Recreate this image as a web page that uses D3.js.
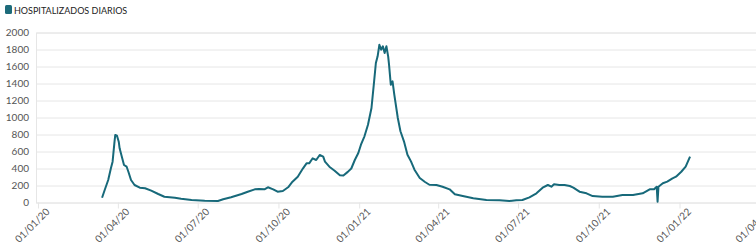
<!DOCTYPE html>
<html>
<head>
<meta charset="utf-8">
<script src="https://cdn.jsdelivr.net/npm/d3@7"></script>
<style>
  body { margin: 0; background: #fff; }
  text { font-family: Lato, "Open Sans", sans-serif; }
</style>
</head>
<body>
<div class="canvas"></div>
<script>
// series (date, hospitalised that day)
const dates = [
  '2020-03-14','2020-03-17','2020-03-21','2020-03-24','2020-03-26','2020-03-28','2020-03-29','2020-03-31',
  '2020-04-02','2020-04-03','2020-04-05','2020-04-08','2020-04-11','2020-04-13','2020-04-16','2020-04-20',
  '2020-04-26','2020-05-02','2020-05-09','2020-05-17','2020-05-24','2020-06-05','2020-06-12','2020-06-24',
  '2020-07-09','2020-07-24','2020-07-30','2020-08-08','2020-08-20','2020-08-27','2020-09-04','2020-09-09',
  '2020-09-15','2020-09-19','2020-09-25','2020-09-30','2020-10-06','2020-10-12','2020-10-17','2020-10-23',
  '2020-10-29','2020-11-02','2020-11-05','2020-11-09','2020-11-13','2020-11-17','2020-11-21','2020-11-23',
  '2020-11-28','2020-12-04','2020-12-10','2020-12-14','2020-12-19','2020-12-23','2020-12-27','2020-12-31',
  '2021-01-03','2021-01-07','2021-01-11','2021-01-15','2021-01-18','2021-01-20','2021-01-22','2021-01-24',
  '2021-01-26','2021-01-28','2021-01-30','2021-02-01','2021-02-03','2021-02-04','2021-02-06','2021-02-08',
  '2021-02-10','2021-02-14','2021-02-17','2021-02-21','2021-02-25','2021-03-01','2021-03-05','2021-03-11',
  '2021-03-17','2021-03-22','2021-03-30','2021-04-06','2021-04-14','2021-04-20','2021-04-29','2021-05-11',
  '2021-05-26','2021-06-10','2021-06-21','2021-06-29','2021-07-06','2021-07-14','2021-07-22','2021-07-29',
  '2021-08-04','2021-08-08','2021-08-11','2021-08-17','2021-08-23','2021-08-29','2021-09-02','2021-09-09',
  '2021-09-17','2021-09-24','2021-10-05','2021-10-17','2021-10-28','2021-11-09','2021-11-20','2021-11-28',
  '2021-12-03','2021-12-06','2021-12-07','2021-12-08','2021-12-13','2021-12-18','2021-12-24','2021-12-28',
  '2022-01-03','2022-01-08','2022-01-13'
];
const values = [
  56, 147, 265, 400, 480, 696, 794, 785,
  715, 637, 559, 441, 421, 362, 265, 206,
  174, 167, 139, 100, 68, 56, 45, 29,
  21, 18, 38, 61, 100, 127, 155, 159,
  155, 179, 155, 127, 135, 179, 245, 304,
  402, 461, 461, 520, 500, 559, 539, 480,
  421, 374, 320, 318, 360, 400, 500, 582,
  680, 779, 915, 1112, 1426, 1641, 1720, 1856,
  1798, 1838, 1759, 1838, 1720, 1621, 1386, 1426,
  1268, 994, 838, 720, 562, 484, 386, 288,
  241, 209, 206, 186, 155, 96, 76, 49,
  29, 26, 18, 26, 29, 61, 108, 174,
  206, 186, 214, 206, 206, 194, 175, 127,
  108, 76, 68, 68, 88, 88, 108, 155,
  155, 186, 10, 186, 226, 245, 284, 304,
  362, 421, 539
];
const yTicks = [0, 200, 400, 600, 800, 1000, 1200, 1400, 1600, 1800, 2000];
const xTicks = ['2020-01-01','2020-04-01','2020-07-01','2020-10-01','2021-01-01',
  '2021-04-01','2021-07-01','2021-10-01','2022-01-01','2022-04-01'];
const seriesName = 'HOSPITALIZADOS DIARIOS';

const width = 756, height = 249;
const margin = { top: 32.5, right: 0, bottom: 46.5, left: 38 };
const parse = d3.timeParse('%Y-%m-%d');
const fmt = d3.timeFormat('%d/%m/%y');
const data = dates.map((d, i) => ({ date: parse(d), value: values[i] }));

const svg = d3.select('.canvas')
  .append('svg')
  .attr('width', width)
  .attr('height', height);

const x = d3.scaleTime()
  .domain([parse('2020-01-01'), parse('2022-04-01')])
  .range([margin.left, 758.5]);

const y = d3.scaleLinear()
  .domain([0, 2000])
  .range([height - margin.bottom, margin.top]);

// legend
svg.append('rect')
  .attr('x', 5).attr('y', 5)
  .attr('width', 7).attr('height', 9)
  .attr('rx', 1.5)
  .attr('fill', '#1d6b7a');
svg.append('text')
  .text(seriesName)
  .attr('x', 14)
  .attr('y', 13.5)
  .attr('font-size', 9)
  .attr('fill', '#222');

// gridlines + y labels
const yAxis = d3.axisLeft(y)
  .tickValues(yTicks)
  .tickFormat(d3.format('d'))
  .tickSize(-(width - 36 + 10))
  .tickPadding(7);
const yg = svg.append('g')
  .attr('transform', 'translate(36,0)')
  .call(yAxis);
yg.select('.domain').attr('stroke', '#e6e6e6');
yg.selectAll('.tick line').attr('stroke', '#e6e6e6');
yg.selectAll('.tick text')
  .attr('font-size', 10)
  .attr('fill', '#555')
  .attr('font-family', 'Lato, sans-serif');

// x axis
const xAxis = d3.axisBottom(x)
  .tickValues(xTicks.map(parse))
  .tickSize(6)
  .tickFormat(fmt);
const xg = svg.append('g')
  .attr('transform', `translate(0,${y(0)})`)
  .call(xAxis);
xg.select('.domain').remove();
xg.selectAll('.tick line').attr('stroke', '#e6e6e6');
xg.selectAll('.tick text')
  .attr('font-size', 10)
  .attr('fill', '#555')
  .attr('font-family', 'Lato, sans-serif')
  .attr('text-anchor', 'end')
  .attr('transform', 'translate(4,2) rotate(-45)')
  .attr('dy', '0.7em')
  .attr('y', 4)
  .attr('x', 0);

// line
const line = d3.line()
  .x(d => x(d.date))
  .y(d => y(d.value));

svg.append('path')
  .datum(data)
  .attr('fill', 'none')
  .attr('stroke', '#17697a')
  .attr('stroke-width', 2)
  .attr('stroke-linejoin', 'round')
  .attr('d', line);
</script>
</body>
</html>
